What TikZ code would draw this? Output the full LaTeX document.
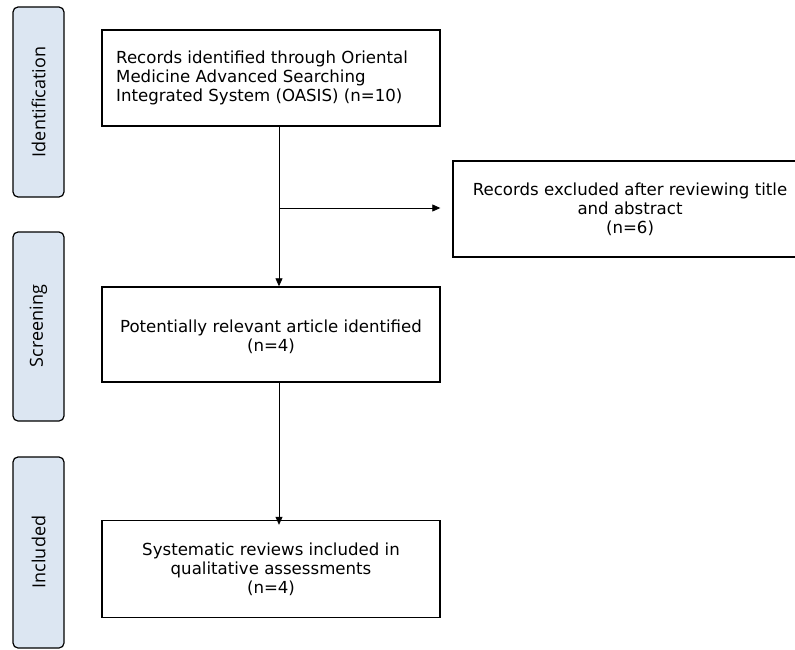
\documentclass[tikz,border=0pt]{standalone}
\usepackage{fontspec}
\setmainfont{Open Sans}
\newfontfamily\boxfont{DejaVu Sans}
\usetikzlibrary{arrows.meta}
\definecolor{stagefill}{HTML}{DCE6F2}
\tikzset{
  stagebox/.style={draw=black, line width=1.2pt, fill=stagefill, rounded corners=5pt},
  stagetext/.style={rotate=90, font=\fontsize{18}{20}\selectfont, inner sep=0pt},
  flowbox/.style={draw=black, line width=1.4pt},
  flowtext/.style={font=\boxfont\fontsize{16.6}{19}\selectfont, align=center, inner sep=0pt},
  conn/.style={line width=0.8pt, -{Triangle[length=8pt,width=7pt]}},
  plainline/.style={line width=0.8pt}
}
\begin{document}
\begin{tikzpicture}[x=1pt,y=-1pt]
\useasboundingbox (0,0) rectangle (795,650);
% stage boxes
\draw[stagebox] (13,7) rectangle (64,197);
\node[stagetext] (sid) at (38.5,102) {Identification};
\draw[stagebox] (13,232) rectangle (64,421);
\node[stagetext] (ssc) at (38.5,326) {Screening};
\draw[stagebox] (13,457) rectangle (64,648);
\node[stagetext] (sin) at (38.5,552) {Included};
% flow boxes
\node[flowbox, minimum width=338pt, minimum height=96pt, inner sep=0pt] (b1) at (271,78) {};
\node[flowtext, align=left, anchor=west] (t1) at (116,78) {Records identified through Oriental\\Medicine Advanced Searching\\Integrated System (OASIS) (n=10)};
\node[flowbox, minimum width=370pt, minimum height=96pt, inner sep=0pt] (ex) at (638,209) {};
\node[flowtext] (tex) at (630,209) {Records excluded after reviewing title\\and abstract\\(n=6)};
\node[flowbox, minimum width=338pt, minimum height=95pt, inner sep=0pt] (b2) at (271,334.5) {};
\node[flowtext] (t2) at (271,337) {Potentially relevant article identified\\(n=4)};
\node[flowbox, minimum width=338pt, minimum height=97pt, inner sep=0pt] (b3) at (271,569) {};
\node[flowtext] (t3) at (271,569) {Systematic reviews included in\\qualitative assessments\\(n=4)};
% connectors
\coordinate (j) at (279,208);
\draw[plainline] (b1.south -| j) -- (j);
\draw[conn] (j) -- (b2.north -| j);
\draw[conn] (j) -- ([xshift=-12pt]ex.west |- j);
\draw[conn] (b2.south -| j) -- ([yshift=-5pt]b3.north -| j);
\end{tikzpicture}
\end{document}
